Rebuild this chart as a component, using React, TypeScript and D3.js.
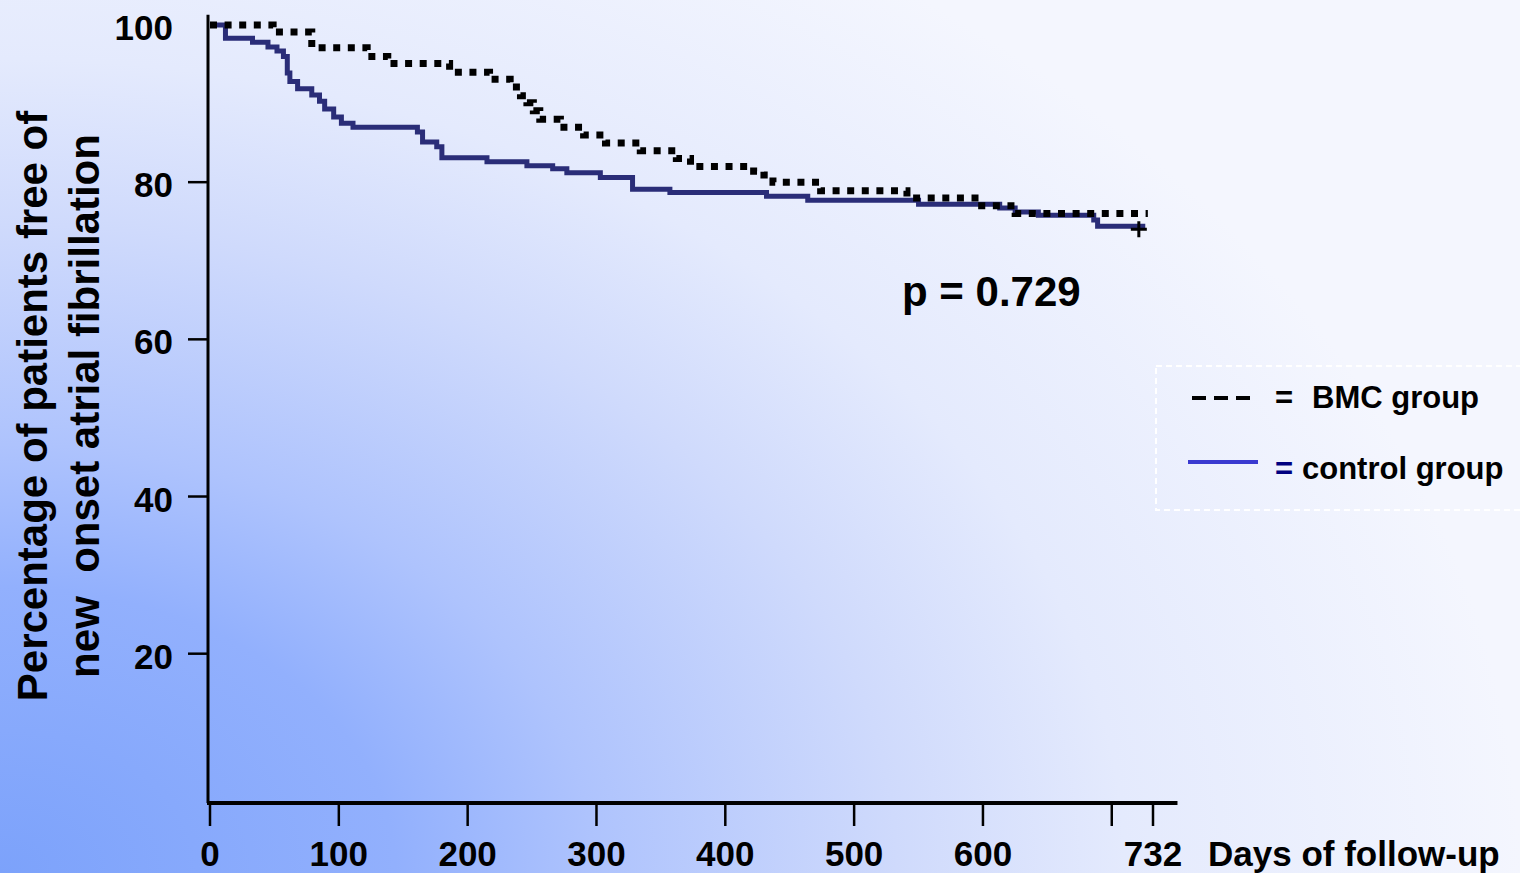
import React, { useEffect, useRef } from 'react';
import * as d3 from 'd3';

// Kaplan-Meier style steps (day, % free of AF)
const bmcDays = [0, 49, 79, 122, 138, 186, 217, 233, 241, 246, 251, 256, 272, 290, 307, 334, 362, 373, 422, 430, 437, 474, 541, 599, 625, 728];
const bmcPct = [100, 99.1, 97.1, 96.0, 95.1, 94.0, 93.1, 92.1, 91.0, 90.1, 89.1, 88.0, 87.0, 86.0, 85.0, 84.0, 83.0, 82.0, 81.4, 80.9, 80.0, 78.9, 78.0, 77.0, 76.0, 76.0];

const controlDays = [0, 12, 33, 45, 52, 57, 60, 62, 68, 79, 85, 89, 96, 102, 111, 161, 165, 176, 180, 215, 246, 266, 277, 303, 328, 357, 432, 464, 550, 613, 625, 643, 686, 689, 726];
const controlPct = [100, 98.3, 97.8, 97.2, 96.7, 96.0, 93.9, 92.8, 91.9, 91.1, 90.3, 89.3, 88.3, 87.5, 87.0, 86.4, 85.1, 84.5, 83.1, 82.6, 82.1, 81.7, 81.2, 80.6, 79.1, 78.7, 78.2, 77.7, 77.2, 76.7, 76.2, 75.8, 75.2, 74.4, 74.4];

const censorDays = [721];
const censorPct = [74.0];

const dayTicks = [0, 100, 200, 300, 400, 500, 600, 700, 732];
const dayTickLabels = ['0', '100', '200', '300', '400', '500', '600', '', '732'];
const pctTickLabels = [20, 40, 60, 80, 100];
const pctTickMarks = [20, 40, 60, 80];

const FONT = '"Liberation Sans", Arial, sans-serif';

export default function App() {
  const ref = useRef<SVGSVGElement>(null);

  useEffect(() => {
    const svg = d3.select(ref.current);
    svg.selectAll('*').remove();

    const width = 1520;
    const height = 873;

    const x = d3.scaleLinear().domain([0, 732]).range([210, 1153]);
    const y = d3.scaleLinear().domain([1, 100]).range([803, 25]);

    // background: bluish glow from bottom-left corner
    const defs = svg.append('defs');
    const grad = defs
      .append('radialGradient')
      .attr('id', 'bg')
      .attr('gradientUnits', 'userSpaceOnUse')
      .attr('cx', 0)
      .attr('cy', 0)
      .attr('r', 1)
      .attr('gradientTransform', `translate(0,${height}) scale(1520,1100)`);
    [
      [0, '#7ca2fb'],
      [0.26, '#92b0fd'],
      [0.39, '#aec3fd'],
      [0.59, '#cfdafc'],
      [0.74, '#e4eafd'],
      [1, '#f4f6fe'],
    ].forEach(([o, c]) => grad.append('stop').attr('offset', o as number).attr('stop-color', c as string));

    svg.append('rect').attr('width', width).attr('height', height).attr('fill', 'url(#bg)');

    const g = svg.append('g').style('font-family', FONT).style('font-weight', 'bold');

    // y axis
    g.append('line')
      .attr('x1', 208).attr('x2', 208)
      .attr('y1', y(101.3)).attr('y2', y(1))
      .attr('stroke', '#000').attr('stroke-width', 3);
    g.selectAll('.ytick')
      .data(pctTickMarks)
      .enter()
      .append('line')
      .attr('x1', 188).attr('x2', 208)
      .attr('y1', (d) => y(d)).attr('y2', (d) => y(d))
      .attr('stroke', '#000').attr('stroke-width', 2.5);
    g.selectAll('.ylab')
      .data(pctTickLabels)
      .enter()
      .append('text')
      .attr('x', 173)
      .attr('y', (d) => y(d) + 15)
      .attr('text-anchor', 'end')
      .attr('font-size', 35)
      .text((d) => d);

    // x axis
    g.append('line')
      .attr('x1', 207).attr('x2', x(751))
      .attr('y1', 803).attr('y2', 803)
      .attr('stroke', '#000').attr('stroke-width', 4);
    g.selectAll('.xtick')
      .data(dayTicks)
      .enter()
      .append('line')
      .attr('x1', (d) => x(d)).attr('x2', (d) => x(d))
      .attr('y1', 803).attr('y2', 826)
      .attr('stroke', '#000').attr('stroke-width', 2.5);
    g.selectAll('.xlab')
      .data(dayTicks)
      .enter()
      .append('text')
      .attr('x', (d) => x(d))
      .attr('y', 866)
      .attr('text-anchor', 'middle')
      .attr('font-size', 35)
      .text((d, i) => dayTickLabels[i]);
    g.append('text')
      .attr('x', 1208).attr('y', 866)
      .attr('font-size', 35)
      .text('Days of follow-up');

    // y title
    const yt = g.append('g').attr('transform', 'translate(0,406) rotate(-90)');
    yt.append('text').attr('x', 0).attr('y', 47).attr('text-anchor', 'middle').attr('font-size', 42)
      .text('Percentage of patients free of');
    yt.append('text').attr('x', 0).attr('y', 99).attr('text-anchor', 'middle').attr('font-size', 42)
      .attr('xml:space', 'preserve').style('white-space', 'pre')
      .text('new  onset atrial fibrillation');

    // curves
    const stepLine = (days: number[], pct: number[]) =>
      d3
        .line<number>()
        .x((d) => x(days[d]))
        .y((d) => y(pct[d]))
        .curve(d3.curveStepAfter)(d3.range(days.length));

    g.append('path')
      .attr('d', stepLine(controlDays, controlPct))
      .attr('fill', 'none')
      .attr('stroke', '#2a2d78')
      .attr('stroke-width', 5);

    g.append('path')
      .attr('d', stepLine(bmcDays, bmcPct))
      .attr('fill', 'none')
      .attr('stroke', '#000')
      .attr('stroke-width', 7)
      .attr('stroke-dasharray', '7 7.6');

    // censor cross
    censorDays.forEach((d, i) => {
      const cx = x(d);
      const cy = y(censorPct[i]);
      g.append('path')
        .attr('d', `M${cx - 8},${cy}H${cx + 8}M${cx},${cy - 8}V${cy + 8}`)
        .attr('stroke', '#000')
        .attr('stroke-width', 3);
    });

    // p value
    g.append('text').attr('x', 902).attr('y', 306).attr('font-size', 42).text('p = 0.729');

    // legend
    const lg = g.append('g');
    lg.append('rect')
      .attr('x', 1156).attr('y', 366)
      .attr('width', 400).attr('height', 144)
      .attr('fill', 'none')
      .attr('stroke', '#ffffff')
      .attr('stroke-width', 2)
      .attr('stroke-dasharray', '6 4');
    lg.append('line')
      .attr('x1', 1192).attr('x2', 1250)
      .attr('y1', 398).attr('y2', 398)
      .attr('stroke', '#000').attr('stroke-width', 4)
      .attr('stroke-dasharray', '14 8');
    lg.append('text').attr('x', 1275).attr('y', 408).attr('font-size', 31).text('=');
    lg.append('text').attr('x', 1312).attr('y', 408).attr('font-size', 31).text('BMC group');
    lg.append('line')
      .attr('x1', 1188).attr('x2', 1258)
      .attr('y1', 462).attr('y2', 462)
      .attr('stroke', '#3a3ad0').attr('stroke-width', 4);
    lg.append('text').attr('x', 1275).attr('y', 479).attr('font-size', 31).attr('fill', '#000080').text('=');
    lg.append('text').attr('x', 1302).attr('y', 479).attr('font-size', 31).text('control group');
  }, []);

  return (
    <div style={{ position: 'absolute', left: 0, top: 0, width: 1520, height: 873, overflow: 'hidden' }}>
      <svg ref={ref} width={1520} height={873}></svg>
    </div>
  );
}
